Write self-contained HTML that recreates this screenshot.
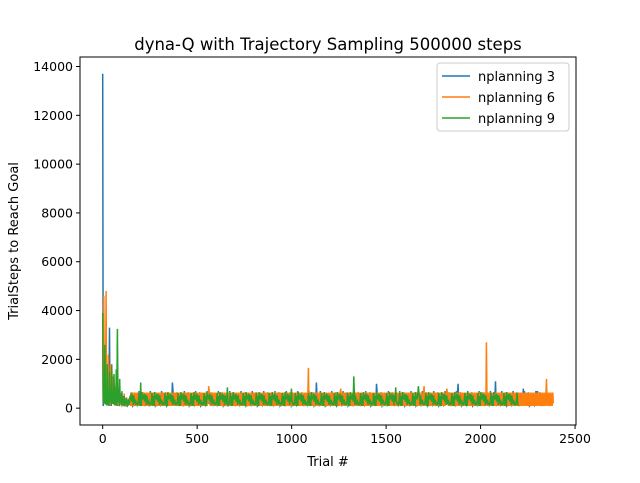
<!DOCTYPE html>
<html><head><meta charset="utf-8"><style>
body{margin:0;background:#fff}
svg text{font-family:"DejaVu Sans","Liberation Sans",sans-serif;fill:#000}
</style></head><body>
<svg id="chart" width="640" height="478" xmlns="http://www.w3.org/2000/svg">
<text x="328" y="50" font-size="16.5" text-anchor="middle">dyna-Q with Trajectory Sampling 500000 steps</text>
<text x="328" y="466" font-size="13" text-anchor="middle">Trial #</text>
<text transform="translate(18,241) rotate(-90)" font-size="13" text-anchor="middle">TrialSteps to Reach Goal</text>
<g id="plot"></g>
<g id="axes"></g>
<g>
<rect x="437" y="63" width="132" height="68" rx="3" fill="#fff" fill-opacity="0.8" stroke="#ccc"/>
<line x1="442" y1="76" x2="470" y2="76" stroke="#1f77b4" stroke-width="1.5"/>
<text x="478" y="81" font-size="13">nplanning 3</text>
<line x1="442" y1="97" x2="470" y2="97" stroke="#ff7f0e" stroke-width="1.5"/>
<text x="478" y="102" font-size="13">nplanning 6</text>
<line x1="442" y1="118" x2="470" y2="118" stroke="#2ca02c" stroke-width="1.5"/>
<text x="478" y="123" font-size="13">nplanning 9</text>
</g>
</svg>
<script>
const trialStep = 3;
const baseStep = 6;
const xTicks = [0,500,1000,1500,2000,2500];
const yTicks = [0,2000,4000,6000,8000,10000,12000,14000];
const seriesNames = ["nplanning 3","nplanning 6","nplanning 9"];
const seriesColors = ["#1f77b4","#ff7f0e","#2ca02c"];
const base3 = [13700,300,1500,400,1200,200,3300,500,1800,300,1000,250,900,200,700,150,600,120,500,200,400,100,350,150];
const base6 = [2500,4600,300,4800,600,2200,400,1800,300,1300,250,900,200,800,300,700,150,500,200,600,150,450,120,400];
const base9 = [3900,800,2600,500,1800,400,1500,700,1700,500,1400,600,1600,3250,800,1200,300,700,200,500,150,400,120,350];
const lowFill = [120,200,90,160,250,110,180];
const noiseA = [120,480,200,620,150,350,90,540,260,700,180,420,110,300,560,140,380,250,650,160];
const noiseB = [310,140,520,200,430,100,600,260,170,380,90,470,230,550,130,340,210,640,150,280,400];
const noiseC = [230,550,120,410,180,660,260,100,470,310,590,150,360,210,500,130,620,270,190,440,350,90,520];
const spikes3 = {370:1050,1130:1050,1450:1000,1880:1000,2080:1100,2225:800,2300:700};
const spikes6 = {1090:1650,2030:2700,2350:1200,560:900,1260:800,1820:800,1700:900};
const spikes9 = {200:1050,660:850,1000:800,1330:1300,1550:850,1670:900};
const lengths = [2330,2385,2200];
function buildSeries(base,noise,spikes,len,offset){
  const v=[];
  for(let i=0;i*trialStep<=len;i++){
    const t=i*trialStep;
    if(t<base.length*baseStep){
      v.push(i%2===0 ? base[Math.floor(t/baseStep)] : lowFill[(i+offset)%lowFill.length]);
    } else {
      let s=null;
      for(const k in spikes){ if(Math.abs(+k-t)<trialStep/2+0.01) s=spikes[k]; }
      v.push(s!==null?s:noise[(i*7+offset)%noise.length]);
    }
  }
  return v;
}
const series3 = buildSeries(base3,noiseA,spikes3,lengths[0],1);
const series6 = buildSeries(base6,noiseB,spikes6,lengths[1],3);
const series9 = buildSeries(base9,noiseC,spikes9,lengths[2],5);
const allSeries=[series3,series6,series9];

const L=80,R=576,T=57,B=425;
const xMin=-120,xMax=2505,yMin=-690,yMax=14390;
const xs=v=>L+(v-xMin)/(xMax-xMin)*(R-L);
const ys=v=>B-(v-yMin)/(yMax-yMin)*(B-T);
const NS="http://www.w3.org/2000/svg";
const plot=document.getElementById('plot');
allSeries.forEach((s,si)=>{
  const p=document.createElementNS(NS,'polyline');
  p.setAttribute('points',s.map((v,i)=>xs(i*trialStep).toFixed(1)+','+ys(v).toFixed(1)).join(' '));
  p.setAttribute('fill','none');p.setAttribute('stroke',seriesColors[si]);p.setAttribute('stroke-width','1.5');
  
  
  plot.appendChild(p);
});
const ax=document.getElementById('axes');
const fr=document.createElementNS(NS,'rect');
fr.setAttribute('x',L);fr.setAttribute('y',T);fr.setAttribute('width',R-L);fr.setAttribute('height',B-T);
fr.setAttribute('fill','none');fr.setAttribute('stroke','#000');fr.setAttribute('stroke-width','1');


ax.appendChild(fr);
xTicks.forEach(t=>{
  const x=xs(t);
  const l=document.createElementNS(NS,'line');
  l.setAttribute('x1',x);l.setAttribute('x2',x);l.setAttribute('y1',B);l.setAttribute('y2',B+4);l.setAttribute('stroke','#000');
  
  
  ax.appendChild(l);
  const tx=document.createElementNS(NS,'text');
  tx.setAttribute('x',x);tx.setAttribute('y',B+18);tx.setAttribute('font-size','12.5');tx.setAttribute('text-anchor','middle');
  tx.textContent=t;
  
  
  ax.appendChild(tx);
});
yTicks.forEach(t=>{
  const y=ys(t);
  const l=document.createElementNS(NS,'line');
  l.setAttribute('x1',L-4);l.setAttribute('x2',L);l.setAttribute('y1',y);l.setAttribute('y2',y);l.setAttribute('stroke','#000');
  
  
  ax.appendChild(l);
  const tx=document.createElementNS(NS,'text');
  tx.setAttribute('x',L-7);tx.setAttribute('y',y+4.5);tx.setAttribute('font-size','12.5');tx.setAttribute('text-anchor','end');
  tx.textContent=t;
  
  
  ax.appendChild(tx);
});
</script>
</body></html>
